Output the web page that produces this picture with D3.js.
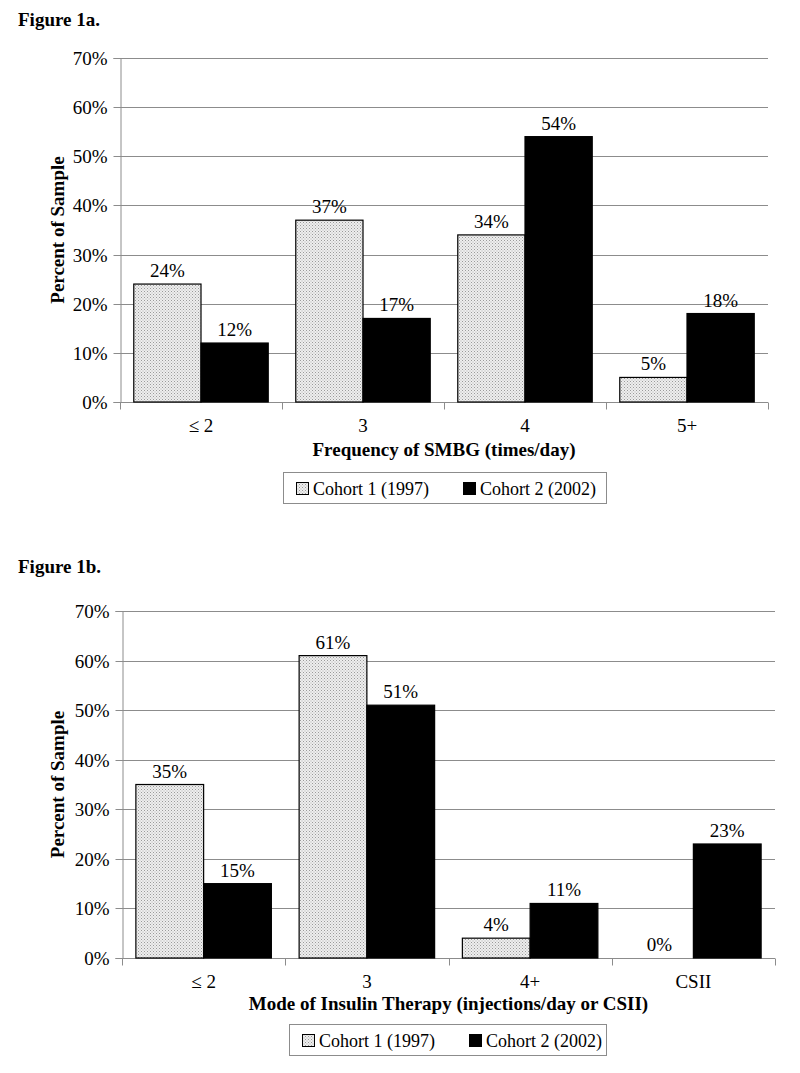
<!DOCTYPE html>
<html lang="en">
<head>
<meta charset="utf-8">
<script src="https://d3js.org/d3.v7.min.js"></script>
<style>
body { margin: 0; background: #fff; }
text { font-family: "Liberation Serif", "Times New Roman", serif; fill: #000; }
.bold { font-weight: bold; }
</style>
</head>
<body>
<script>

// chart data
var seriesNames = ["Cohort 1 (1997)", "Cohort 2 (2002)"];
var yTicks = [0, 10, 20, 30, 40, 50, 60, 70];

var catsA = ["\u2264 2", "3", "4", "5+"];
var cohort1A = [24, 37, 34, 5];
var cohort2A = [12, 17, 54, 18];

var catsB = ["\u2264 2", "3", "4+", "CSII"];
var cohort1B = [35, 61, 4, 0];
var cohort2B = [15, 51, 11, 23];

var width = 800, height = 1073;

var svg = d3.select("body").append("svg")
  .attr("width", width)
  .attr("height", height);

svg.append("rect").attr("width", width).attr("height", height).attr("fill", "#fff");

// dotted fill for cohort 1
var defs = svg.append("defs");
var pat = defs.append("pattern")
  .attr("id", "dots")
  .attr("patternUnits", "userSpaceOnUse")
  .attr("width", 3).attr("height", 3);
pat.append("rect").attr("width", 3).attr("height", 3).attr("fill", "#eeeeee");
pat.append("rect").attr("x", 0).attr("y", 0).attr("width", 1).attr("height", 1).attr("fill", "#9a9a9a");
pat.append("rect").attr("x", 1.5).attr("y", 1.5).attr("width", 1).attr("height", 1).attr("fill", "#b0b0b0");

function drawChart(o) {
  var g = svg.append("g");

  g.append("text")
    .attr("class", "bold")
    .attr("x", 18).attr("y", o.titleY)
    .style("font-size", "19px")
    .text(o.title);

  var x = d3.scaleBand().domain(o.cats).range([o.left, o.right]).paddingInner(0).paddingOuter(0);
  var y = d3.scaleLinear().domain([0, 70]).range([o.bottom, o.top]);

  // gridlines
  g.selectAll(".grid").data(yTicks.slice(1)).enter().append("line")
    .attr("x1", o.left).attr("x2", o.right)
    .attr("y1", function(d) { return Math.round(y(d)) + 0.5; })
    .attr("y2", function(d) { return Math.round(y(d)) + 0.5; })
    .attr("stroke", "#8c8c8c").attr("stroke-width", 1);

  // y axis
  var yAxis = d3.axisLeft(y).tickValues(yTicks).tickSize(7).tickPadding(6)
    .tickFormat(function(d) { return d + "%"; });
  var ya = g.append("g").attr("transform", "translate(" + (o.left + 0.5) + ",0)").call(yAxis);
  ya.select(".domain").attr("stroke", "#8c8c8c");
  ya.selectAll(".tick line").attr("stroke", "#8c8c8c");
  ya.selectAll("text").style("font-size", "19px").style("font-family", "Liberation Serif");
  ya.selectAll(".tick").attr("transform", function(d) { return "translate(0," + (Math.round(y(d)) + 0.5) + ")"; });

  // x axis
  var xa = g.append("g").attr("transform", "translate(0," + (Math.round(o.bottom) + 0.5) + ")");
  xa.append("line").attr("x1", o.left).attr("x2", o.right).attr("stroke", "#8c8c8c");
  var edges = o.cats.map(function(c) { return x(c); }).concat([o.right]);
  xa.selectAll(".xt").data(edges).enter().append("line")
    .attr("x1", function(d) { return Math.round(d) + 0.5; })
    .attr("x2", function(d) { return Math.round(d) + 0.5; })
    .attr("y1", 0).attr("y2", 7).attr("stroke", "#8c8c8c");
  xa.selectAll(".xl").data(o.cats).enter().append("text")
    .attr("x", function(d) { return x(d) + x.bandwidth() / 2; })
    .attr("y", 29)
    .attr("text-anchor", "middle")
    .style("font-size", "19px")
    .text(function(d) { return d; });

  // bars
  var gap = x.bandwidth() * 0.085;
  var bw = (x.bandwidth() - 2 * gap) / 2;
  var series = [o.s1, o.s2];
  series.forEach(function(vals, si) {
    var rows = o.cats.map(function(c, i) { return { cat: c, v: vals[i] }; });
    g.selectAll(".bar" + si).data(rows).enter().append("rect")
      .attr("x", function(d) { return x(d.cat) + gap + si * bw; })
      .attr("y", function(d) { return y(d.v); })
      .attr("width", bw)
      .attr("height", function(d) { return y(0) - y(d.v); })
      .attr("fill", si === 0 ? "url(#dots)" : "#000")
      .attr("stroke", "#000")
      .attr("stroke-width", function(d) { return d.v > 0 ? 1.2 : 0; });
    g.selectAll(".lab" + si).data(rows).enter().append("text")
      .attr("x", function(d) { return x(d.cat) + gap + si * bw + bw / 2; })
      .attr("y", function(d) { return y(d.v) - 7; })
      .attr("text-anchor", "middle")
      .style("font-size", "19px")
      .text(function(d) { return d.v + "%"; });
  });

  // axis titles
  g.append("text")
    .attr("class", "bold")
    .attr("transform", "translate(" + 64 + "," + ((o.top + o.bottom) / 2) + ") rotate(-90)")
    .attr("text-anchor", "middle")
    .style("font-size", "19px")
    .text("Percent of Sample");

  g.append("text")
    .attr("class", "bold")
    .attr("x", (o.left + o.right) / 2)
    .attr("y", o.xTitleY)
    .attr("text-anchor", "middle")
    .style("font-size", "19px")
    .text(o.xTitle);

  // legend
  var lg = g.append("g").attr("transform", "translate(" + o.legX + "," + o.legY + ")");
  lg.append("rect").attr("x", 0.5).attr("y", 0.5).attr("width", o.legW).attr("height", 31)
    .attr("fill", "#fff").attr("stroke", "#8c8c8c");
  var item = lg.selectAll(".li").data(seriesNames).enter().append("g")
    .attr("transform", function(d, i) { return "translate(" + (13 + i * 167) + ",0)"; });
  item.append("rect").attr("x", 0.5).attr("y", 10.5).attr("width", 12).attr("height", 12)
    .attr("fill", function(d, i) { return i === 0 ? "url(#dots)" : "#000"; })
    .attr("stroke", "#000");
  item.append("text").attr("x", 17).attr("y", 23)
    .style("font-size", "18px")
    .text(function(d) { return d; });
}

drawChart({
  title: "Figure 1a.", titleY: 26,
  cats: catsA, s1: cohort1A, s2: cohort2A,
  left: 120, right: 768, top: 58, bottom: 402,
  xTitle: "Frequency of SMBG (times/day)", xTitleY: 456,
  legX: 283, legY: 472, legW: 323
});

drawChart({
  title: "Figure 1b.", titleY: 573,
  cats: catsB, s1: cohort1B, s2: cohort2B,
  left: 122, right: 775, top: 611, bottom: 958,
  xTitle: "Mode of Insulin Therapy (injections/day or CSII)", xTitleY: 1010,
  legX: 289, legY: 1024, legW: 317
});

</script>
</body>
</html>
